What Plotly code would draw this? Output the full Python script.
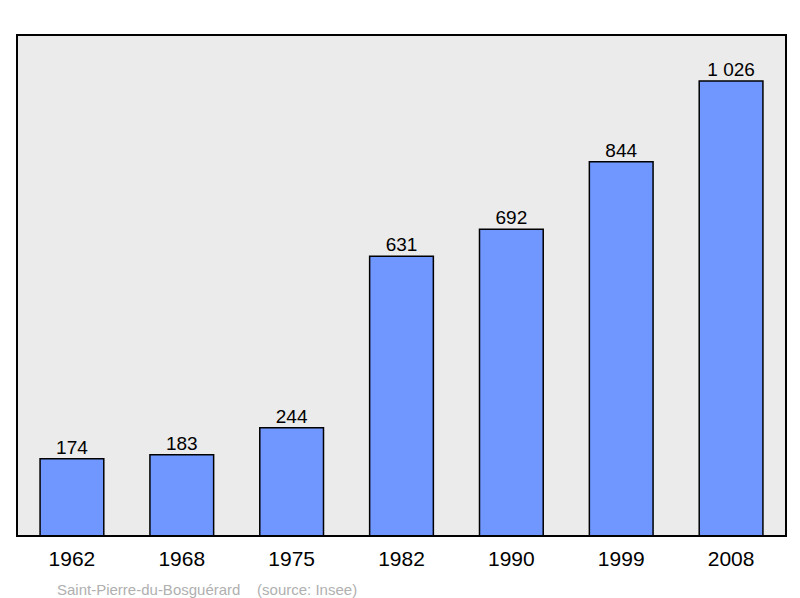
import plotly.graph_objects as go

years = ["1962", "1968", "1975", "1982", "1990", "1999", "2008"]
population = [174, 183, 244, 631, 692, 844, 1026]
labels = ["174", "183", "244", "631", "692", "844", "1 026"]

fig = go.Figure(go.Bar(
    x=years, y=population,
    marker=dict(color="#7096ff", line=dict(color="black", width=1.5)),
))

# value labels above each bar
fig.add_trace(go.Scatter(
    x=years, y=population, text=labels, mode="text",
    textposition="top center", textfont=dict(size=19, color="black"),
    cliponaxis=False, hoverinfo="skip",
))

fig.update_layout(
    width=800, height=598,
    margin=dict(l=9, r=22, t=27, b=70, autoexpand=False),
    paper_bgcolor="white", plot_bgcolor="#ebebeb",
    font=dict(family="Liberation Sans, Arial, sans-serif"),
    bargap=0.42, showlegend=False,
    xaxis=dict(showgrid=False, tickfont=dict(size=21, color="black"), ticks="",
               ticklabelstandoff=8, automargin=False),
    yaxis=dict(range=[0, 1130], visible=False, showgrid=False, automargin=False),
    shapes=[dict(type="rect", xref="paper", yref="paper", x0=0, x1=1, y0=0, y1=1,
                 line=dict(color="black", width=2))],
    annotations=[dict(text="Saint-Pierre-du-Bosguérard    (source: Insee)",
                      xref="paper", yref="paper", x=0.05, y=-0.085,
                      xanchor="left", yanchor="top", showarrow=False,
                      font=dict(size=15, color="#b0b0b0"))],
)

fig.write_html("out.html")
